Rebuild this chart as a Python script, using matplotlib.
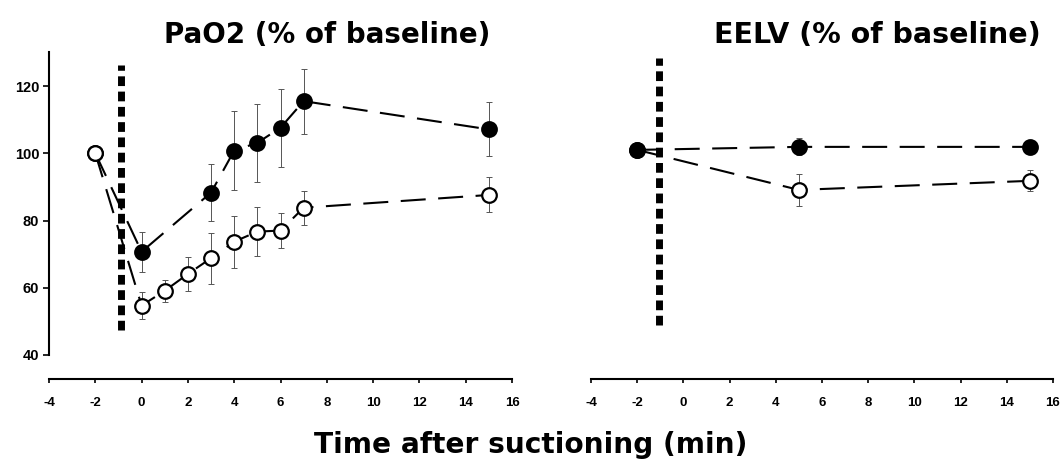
import numpy as np
import matplotlib.pyplot as plt

plt.rcParams['font.family'] = ['Liberation Sans', 'DejaVu Sans']
plt.rcParams['font.weight'] = 'bold'
plt.rcParams['axes.unicode_minus'] = False

# PaO2 (% of baseline)
t_pao2 = np.array([-2, 0, 3, 4, 5, 6, 7, 15])
pao2_fill = np.array([100, 70.7, 88.3, 100.8, 103.1, 107.6, 115.5, 107.1])
pao2_fill_err = np.array([0, 6.0, 8.5, 11.7, 11.7, 11.6, 9.7, 8.0])

t_pao2_o = np.array([-2, 0, 1, 2, 3, 4, 5, 6, 7, 15])
pao2_open = np.array([100, 54.7, 59.1, 64.1, 68.8, 73.7, 76.7, 77.0, 83.8, 87.6])
pao2_open_err = np.array([0, 4.0, 3.3, 5.0, 7.6, 7.7, 7.3, 5.2, 5.0, 5.2])

# EELV (% of baseline)
t_eelv = np.array([-2, 5, 15])
eelv_fill = np.array([101, 101.9, 101.9])
eelv_fill_err = np.array([0, 2.5, 0.5])
eelv_open = np.array([101, 89.1, 91.8])
eelv_open_err = np.array([0, 4.7, 3.1])

xticks = np.arange(-4, 17, 2)
yticks = np.arange(40, 121, 20)

W, H = 1061, 459
fig = plt.figure(figsize=(W/100, H/100), dpi=100)
ax1 = fig.add_axes([49/W, 1-355/H, (512-49)/W, (355-52.4)/H])
ax2 = fig.add_axes([591/W, 1-355/H, (1053-591)/W, (355-52.4)/H])

def serie(ax, x, y, e, filled, z):
    ax.errorbar(x, y, yerr=e, fmt='none', ecolor='#555555', elinewidth=0.7,
                capsize=2.5, capthick=0.7, zorder=2)
    ax.plot(x, y, color='black', lw=1.5, dashes=(12, 6), zorder=3)
    ax.plot(x, y, 'o', ms=10.5, mec='black', mew=1.6,
            mfc='black' if filled else 'white', zorder=z)

# left: open circle drawn on top; right: filled circle on top
serie(ax1, t_pao2, pao2_fill, pao2_fill_err, True, 4)
serie(ax1, t_pao2_o, pao2_open, pao2_open_err, False, 5)
serie(ax2, t_eelv, eelv_open, eelv_open_err, False, 4)
serie(ax2, t_eelv, eelv_fill, eelv_fill_err, True, 5)

ax1.plot([-0.88, -0.88], [47.4, 126.2], color='black', lw=5, dashes=(1.4, 0.8),
         solid_capstyle='butt', dash_capstyle='butt', zorder=1)
ax2.plot([-1.05, -1.05], [48.9, 128.3], color='black', lw=5, dashes=(1.4, 0.8),
         solid_capstyle='butt', dash_capstyle='butt', zorder=1)

for ax in (ax1, ax2):
    ax.set_xlim(-4, 16)
    ax.set_ylim(40, 130)
    ax.set_xticks(xticks)
    ax.spines['top'].set_visible(False)
    ax.spines['right'].set_visible(False)
    ax.spines['bottom'].set_position(('outward', 17))
    ax.spines['bottom'].set_linewidth(1.5)
    ax.tick_params(axis='x', direction='out', length=3, width=1.2, labelsize=9.5, pad=10)

ax1.set_yticks(yticks)
ax1.spines['left'].set_linewidth(1.5)
ax1.tick_params(axis='y', direction='out', length=4, width=1.2, labelsize=10.5, pad=3)
ax2.spines['left'].set_visible(False)
ax2.set_yticks([])

big = dict(ha='center', va='baseline', fontweight='bold', family='DejaVu Sans')
fig.text(327/W, 1-42.7/H, 'PaO2 (% of baseline)', fontsize=20, **big)
fig.text(877/W, 1-42.7/H, 'EELV (% of baseline)', fontsize=20.5, **big)
fig.text(531/W, 1-452.7/H, 'Time after suctioning (min)', fontsize=20.2, **big)

fig.savefig('out.png', dpi=100)
